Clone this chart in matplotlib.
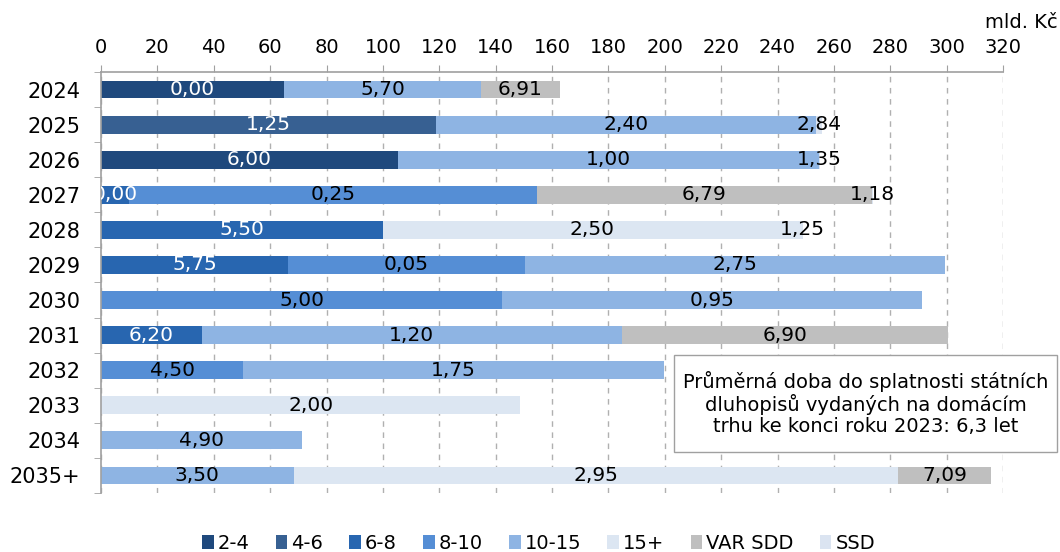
import numpy as np
import matplotlib.pyplot as plt
from matplotlib.patches import Patch, Rectangle

plt.rcParams['font.family'] = ['DejaVu Sans']
plt.rcParams['font.size'] = 14

years = ['2024', '2025', '2026', '2027', '2028', '2029', '2030', '2031',
         '2032', '2033', '2034', '2035+']
series = ['2-4', '4-6', '6-8', '8-10', '10-15', '15+', 'VAR SDD', 'SSD']

# objem (mld. Kč) podle zbytkove splatnosti, popisky = kupony
v_2_4 = [64.9, 0, 105.4, 0, 0, 0, 0, 0, 0, 0, 0, 0]
l_2_4 = ['0,00', '', '6,00', '', '', '', '', '', '', '', '', '']
v_4_6 = [0, 119.0, 0, 0, 0, 0, 0, 0, 0, 0, 0, 0]
l_4_6 = ['', '1,25', '', '', '', '', '', '', '', '', '', '']
v_6_8 = [0, 0, 0, 10.0, 99.9, 66.3, 0, 35.8, 0, 0, 0, 0]
l_6_8 = ['', '', '', '0,00', '5,50', '5,75', '', '6,20', '', '', '', '']
v_8_10 = [0, 0, 0, 144.5, 0, 84.1, 142.3, 0, 50.4, 0, 0, 0]
l_8_10 = ['', '', '', '0,25', '', '0,05', '5,00', '', '4,50', '', '', '']
v_10_15 = [69.9, 134.8, 149.2, 0, 0, 148.9, 149.1, 148.9, 149.2, 0, 71.3, 68.3]
l_10_15 = ['5,70', '2,40', '1,00', '', '', '2,75', '0,95', '1,20', '1,75', '', '4,90', '3,50']
v_15 = [0, 0, 0, 0, 148.6, 0, 0, 0, 0, 148.8, 0, 214.5]
l_15 = ['', '', '', '', '2,50', '', '', '', '', '2,00', '', '2,95']
v_var = [28.0, 0, 0, 119.1, 0, 0, 0, 115.7, 0, 0, 0, 33.0]
l_var = ['6,91', '', '', '6,79', '', '', '', '6,90', '', '', '', '7,09']
v_ssd = [0, 1.9, 0.4, 0.4, 0.4, 0, 0, 0, 0, 0, 0, 0]
l_ssd = ['', '2,84', '1,35', '1,18', '1,25', '', '', '', '', '', '', '']

values = [v_2_4, v_4_6, v_6_8, v_8_10, v_10_15, v_15, v_var, v_ssd]
labels = [l_2_4, l_4_6, l_6_8, l_8_10, l_10_15, l_15, l_var, l_ssd]
colors = ['#1f497d', '#376092', '#2866b0', '#558ed5', '#8eb4e3', '#dce6f2', '#bfbfbf', '#dbe4f1']
txtcol = ['white', 'white', 'white', 'black', 'black', 'black', 'black', 'black']

fig = plt.figure(figsize=(10.6, 5.52), dpi=100)
ax = fig.add_axes([0.0953, 0.1069, 0.851, 0.7627])

y = np.arange(len(years))
left = np.zeros(len(years))
for vals, labs, c, tc in zip(values, labels, colors, txtcol):
    vals = np.array(vals)
    ax.barh(y, vals, left=left, height=0.51, color=c, zorder=2)
    for i in range(len(years)):
        if labs[i]:
            t = ax.text(left[i] + vals[i] / 2, y[i], labs[i], ha='center', va='center',
                        color=tc, fontsize=14.5, zorder=3)
            t.set_clip_on(True)
    left = left + vals

ax.set_xlim(0, 320)
ax.set_ylim(len(years) - 0.5, -0.5)
ax.xaxis.tick_top()
ax.set_xticks(np.arange(0, 321, 20))
ax.tick_params(axis='x', which='major', length=5, color='#a0a0a0', pad=6, labelsize=14)
ax.set_yticks(y)
ax.set_yticklabels(years)
ax.set_yticks(np.arange(-0.5, len(years), 1), minor=True)
ax.tick_params(axis='y', which='major', length=0, pad=15, labelsize=15)
ax.tick_params(axis='y', which='minor', length=5, color='#a0a0a0')
ax.grid(axis='x', linestyle=(0, (4, 4)), color='#b0b0b0', linewidth=1, zorder=0)
ax.set_axisbelow(True)
for s in ['right', 'bottom']:
    ax.spines[s].set_visible(False)
for s in ['top', 'left']:
    ax.spines[s].set_color('#a0a0a0')
    ax.spines[s].set_linewidth(1.2)

fig.text(0.998, 0.96, 'mld. Kč', ha='right', va='center', fontsize=14)

# rameček s poznamkou
fig.patches.append(Rectangle((0.636, 0.181), 0.361, 0.176, transform=fig.transFigure,
                             facecolor='white', edgecolor='#a0a0a0', linewidth=1, zorder=5))
fig.text(0.8165, 0.269, 'Průměrná doba do splatnosti státních\ndluhopisů vydaných na domácím\ntrhu ke konci roku 2023: 6,3 let',
         ha='center', va='center', fontsize=14, linespacing=1.1, zorder=6)

handles = [Patch(facecolor=c, label=s) for c, s in zip(colors, series)]
fig.legend(handles=handles, loc='center', bbox_to_anchor=(0.508, 0.016), ncol=8, frameon=False,
           handlelength=0.6, handleheight=0.75, handletextpad=0.2, columnspacing=1.35, fontsize=14)

fig.savefig('out.png', dpi=100)
